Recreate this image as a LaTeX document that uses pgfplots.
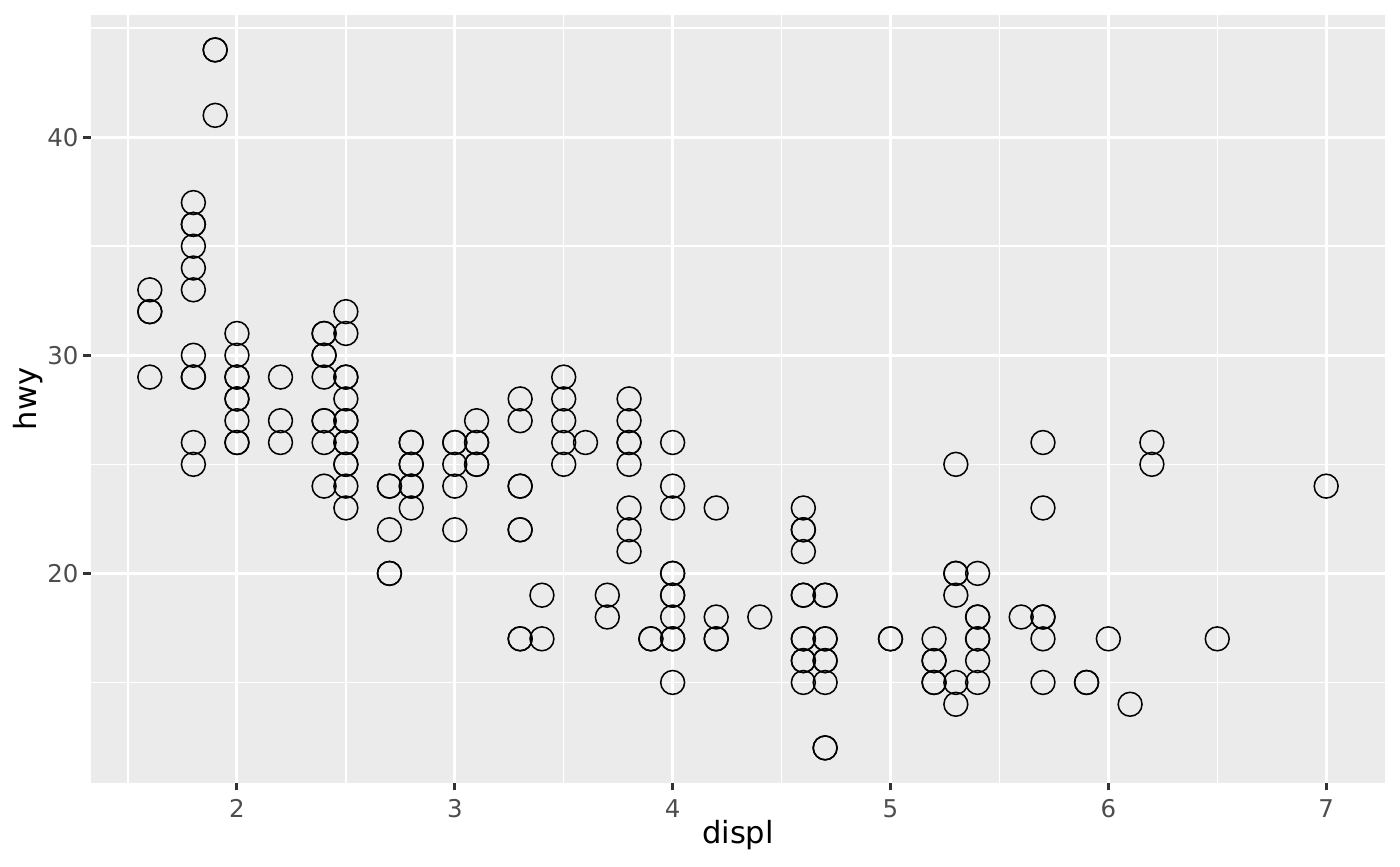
\documentclass[border=0pt]{standalone}
\usepackage{pgfplots}
\pgfplotsset{compat=1.18}
\usepackage{fontspec}
\setmainfont{DejaVu Sans}
\definecolor{panel}{HTML}{EBEBEB}
\definecolor{tickgray}{HTML}{333333}
\definecolor{labelgray}{HTML}{4D4D4D}
\begin{document}
\begin{tikzpicture}[x=1pt,y=1pt]
  % page frame: 1400 x 866 px at 200 dpi (1 px = 0.36 pt)
  \path[use as bounding box] (-32.76,-29.99) rectangle (471.24,281.8);
  \begin{axis}[
      at={(0,0)}, anchor=origin,
      scale only axis,
      width=465.84pt, height=276.4pt,
      xmin=1.33, xmax=7.27,
      ymin=10.4, ymax=45.6,
      xtick={2,3,4,5,6,7},
      ytick={20,30,40},
      minor xtick={1.5,2.5,...,6.5},
      minor ytick={15,25,35,45},
      xtick pos=bottom, ytick pos=left,
      axis line style={draw=none},
      axis background/.style={fill=panel},
      grid=both,
      major grid style={white, line width=1.07pt},
      minor grid style={white, line width=0.53pt},
      tick align=outside,
      major tick length=2.75pt,
      minor tick length=0pt,
      major tick style={tickgray, line width=1.07pt},
      tick label style={font=\fontsize{8.8}{10}\selectfont, text=labelgray},
      /pgf/number format/assume math mode=true,
      xticklabel style={yshift=0.2pt},
      yticklabel style={xshift=1.8pt},
      xlabel={displ},
      ylabel={hwy},
      label style={font=\fontsize{11}{13}\selectfont},
      xlabel style={at={(axis description cs:0.5,0)}, anchor=center, yshift=-18.8pt},
      ylabel style={at={(axis description cs:0,0.5)}, anchor=center, yshift=22.7pt},
      clip=false,
    ]
    \addplot[only marks, mark=o, mark size=4.3pt,
      mark options={black, line width=0.55pt, fill=none}] coordinates {
      (1.6,33) (1.6,32) (1.6,32) (1.6,29)
      (1.8,37) (1.8,36) (1.8,36) (1.8,35) (1.8,34) (1.8,33) (1.8,30) (1.8,29) (1.8,29) (1.8,26) (1.8,25)
      (1.9,44) (1.9,44) (1.9,41)
      (2.0,31) (2.0,30) (2.0,29) (2.0,29) (2.0,28) (2.0,28) (2.0,27) (2.0,26) (2.0,26)
      (2.2,29) (2.2,27) (2.2,26)
      (2.4,31) (2.4,31) (2.4,30) (2.4,30) (2.4,29) (2.4,27) (2.4,27) (2.4,26) (2.4,24)
      (2.5,32) (2.5,31) (2.5,29) (2.5,29) (2.5,28) (2.5,27) (2.5,27) (2.5,26) (2.5,26) (2.5,25) (2.5,25) (2.5,24) (2.5,23)
      (2.7,24) (2.7,24) (2.7,22) (2.7,20) (2.7,20)
      (2.8,26) (2.8,26) (2.8,25) (2.8,25) (2.8,24) (2.8,24) (2.8,23)
      (3.0,26) (3.0,26) (3.0,25) (3.0,24) (3.0,22)
      (3.1,27) (3.1,26) (3.1,26) (3.1,25) (3.1,25)
      (3.3,28) (3.3,27) (3.3,24) (3.3,24) (3.3,22) (3.3,22) (3.3,17) (3.3,17)
      (3.4,19) (3.4,17)
      (3.5,29) (3.5,28) (3.5,27) (3.5,26) (3.5,25)
      (3.6,26)
      (3.7,19) (3.7,18)
      (3.8,28) (3.8,27) (3.8,26) (3.8,26) (3.8,25) (3.8,23) (3.8,22) (3.8,21)
      (3.9,17) (3.9,17)
      (4.0,26) (4.0,24) (4.0,23) (4.0,20) (4.0,20) (4.0,19) (4.0,19) (4.0,18) (4.0,17) (4.0,17) (4.0,15)
      (4.2,23) (4.2,18) (4.2,17) (4.2,17)
      (4.4,18)
      (4.6,23) (4.6,22) (4.6,22) (4.6,21) (4.6,19) (4.6,19) (4.6,17) (4.6,17) (4.6,16) (4.6,16) (4.6,15)
      (4.7,19) (4.7,19) (4.7,17) (4.7,17) (4.7,16) (4.7,16) (4.7,15) (4.7,12) (4.7,12)
      (5.0,17) (5.0,17)
      (5.2,17) (5.2,16) (5.2,16) (5.2,15) (5.2,15)
      (5.3,25) (5.3,20) (5.3,20) (5.3,19) (5.3,15) (5.3,14)
      (5.4,20) (5.4,18) (5.4,18) (5.4,17) (5.4,17) (5.4,16) (5.4,15)
      (5.6,18)
      (5.7,26) (5.7,23) (5.7,18) (5.7,18) (5.7,17) (5.7,15)
      (5.9,15) (5.9,15)
      (6.0,17)
      (6.1,14)
      (6.2,26) (6.2,25)
      (6.5,17)
      (7.0,24)
    };
  \end{axis}
\end{tikzpicture}
\end{document}
